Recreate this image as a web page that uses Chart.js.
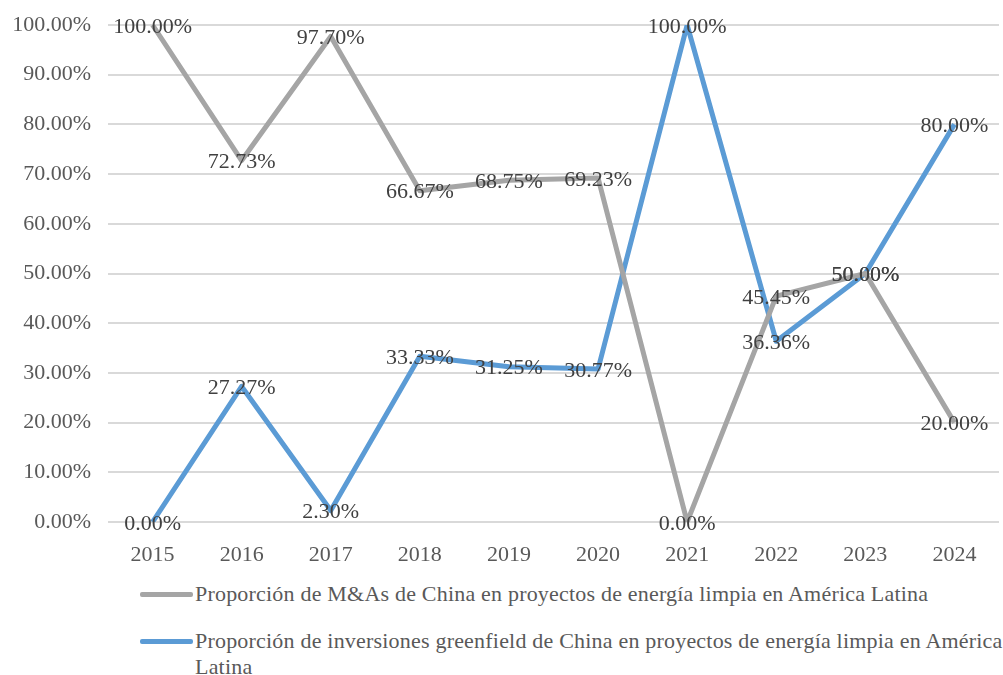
<!DOCTYPE html>
<html>
<head>
<meta charset="utf-8">
<script src="https://cdn.jsdelivr.net/npm/chart.js@4.4.1/dist/chart.umd.min.js"></script>
<style>
  html, body { margin: 0; padding: 0; background: #fff; }
  #wrap { position: relative; width: 1003px; height: 675px; overflow: hidden; }
  #chart-box { position: absolute; left: 0; top: 0; width: 1003px; height: 575px; }
  #legend { position: absolute; left: 0; top: 0; width: 1003px; }
  .leg-item { position: absolute; left: 140px; width: 860px; }
  .leg-line { position: absolute; left: 0; width: 53px; height: 5px; border-radius: 2px; }
  .leg-text {
    position: absolute; left: 55px; width: 810px;
    font-family: "Liberation Serif", "Times New Roman", serif;
    font-size: 22px; line-height: 26px; color: #595959; letter-spacing: 0.2px;
  }
</style>
</head>
<body>
<div id="wrap">
  <div id="chart-box"><canvas id="share-chart"></canvas></div>
  <div id="legend"></div>
</div>
<script>
// Proporción de M&As vs greenfield (%)
const years = ['2015', '2016', '2017', '2018', '2019', '2020', '2021', '2022', '2023', '2024'];
const maShare = [100.00, 72.73, 97.70, 66.67, 68.75, 69.23, 0.00, 45.45, 50.00, 20.00];
const greenfieldShare = [0.00, 27.27, 2.30, 33.33, 31.25, 30.77, 100.00, 36.36, 50.00, 80.00];
const yTicks = [0, 10, 20, 30, 40, 50, 60, 70, 80, 90, 100];

const seriesNames = [
    'Proporción de M&As de China en proyectos de energía limpia en América Latina',
    'Proporción de inversiones greenfield de China en proyectos de energía limpia en América Latina'
];
const seriesColors = ['#a5a5a5', '#5b9bd5'];

const serif = '"Liberation Serif", "Times New Roman", serif';
const pct = v => v.toFixed(2) + '%';

// Etiquetas de valor centradas sobre cada punto
const valueLabels = {
    id: 'valueLabels',
    afterDatasetsDraw(chart) {
        const ctx = chart.ctx;
        ctx.save();
        ctx.font = '22px ' + serif;
        ctx.fillStyle = '#404040';
        ctx.textAlign = 'center';
        ctx.textBaseline = 'middle';
        chart.data.datasets.forEach((ds, i) => {
            chart.getDatasetMeta(i).data.forEach((pt, j) => {
                ctx.fillText(pct(ds.data[j]), pt.x, pt.y + 2);
            });
        });
        ctx.restore();
    }
};

const chart = new Chart(document.getElementById('share-chart'), {
    type: 'line',
    data: {
        labels: years,
        datasets: [
            { label: seriesNames[0], data: maShare, borderColor: seriesColors[0] },
            { label: seriesNames[1], data: greenfieldShare, borderColor: seriesColors[1] }
        ].map(ds => Object.assign(ds, {
            borderWidth: 5,
            pointRadius: 0,
            tension: 0,
            fill: false,
            borderJoinStyle: 'round'
        }))
    },
    options: {
        responsive: true,
        maintainAspectRatio: false,
        animation: false,
        layout: { padding: { top: 25, right: 4, left: 0, bottom: 0 } },
        plugins: {
            legend: { display: false },
            tooltip: { enabled: false }
        },
        scales: {
            x: {
                offset: true,
                grid: { display: false },
                border: { display: false },
                ticks: {
                    font: { family: serif, size: 22 },
                    color: '#595959',
                    padding: 12
                },
                afterFit(scale) { scale.height = 53; }
            },
            y: {
                min: 0,
                max: 100,
                afterBuildTicks(scale) { scale.ticks = yTicks.map(v => ({ value: v })); },
                grid: { color: '#d9d9d9', lineWidth: 2, drawTicks: false },
                border: { display: false },
                ticks: {
                    font: { family: serif, size: 22 },
                    color: '#595959',
                    padding: 17,
                    callback: v => pct(v)
                },
                afterFit(scale) {
                    scale.width = 108;
                    scale.paddingTop = 0;
                    scale.paddingBottom = 0;
                }
            }
        }
    },
    plugins: [valueLabels]
});

// Leyenda inferior
const legendTops = [581, 628];
const legendBox = document.getElementById('legend');
chart.data.datasets.forEach((ds, i) => {
    const item = document.createElement('div');
    item.className = 'leg-item';
    item.style.top = legendTops[i] + 'px';
    item.innerHTML = '<div class="leg-line" style="top:11px;background:' + ds.borderColor + '"></div>' +
        '<div class="leg-text"></div>';
    item.querySelector('.leg-text').textContent = ds.label;
    legendBox.appendChild(item);
});
</script>
</body>
</html>
